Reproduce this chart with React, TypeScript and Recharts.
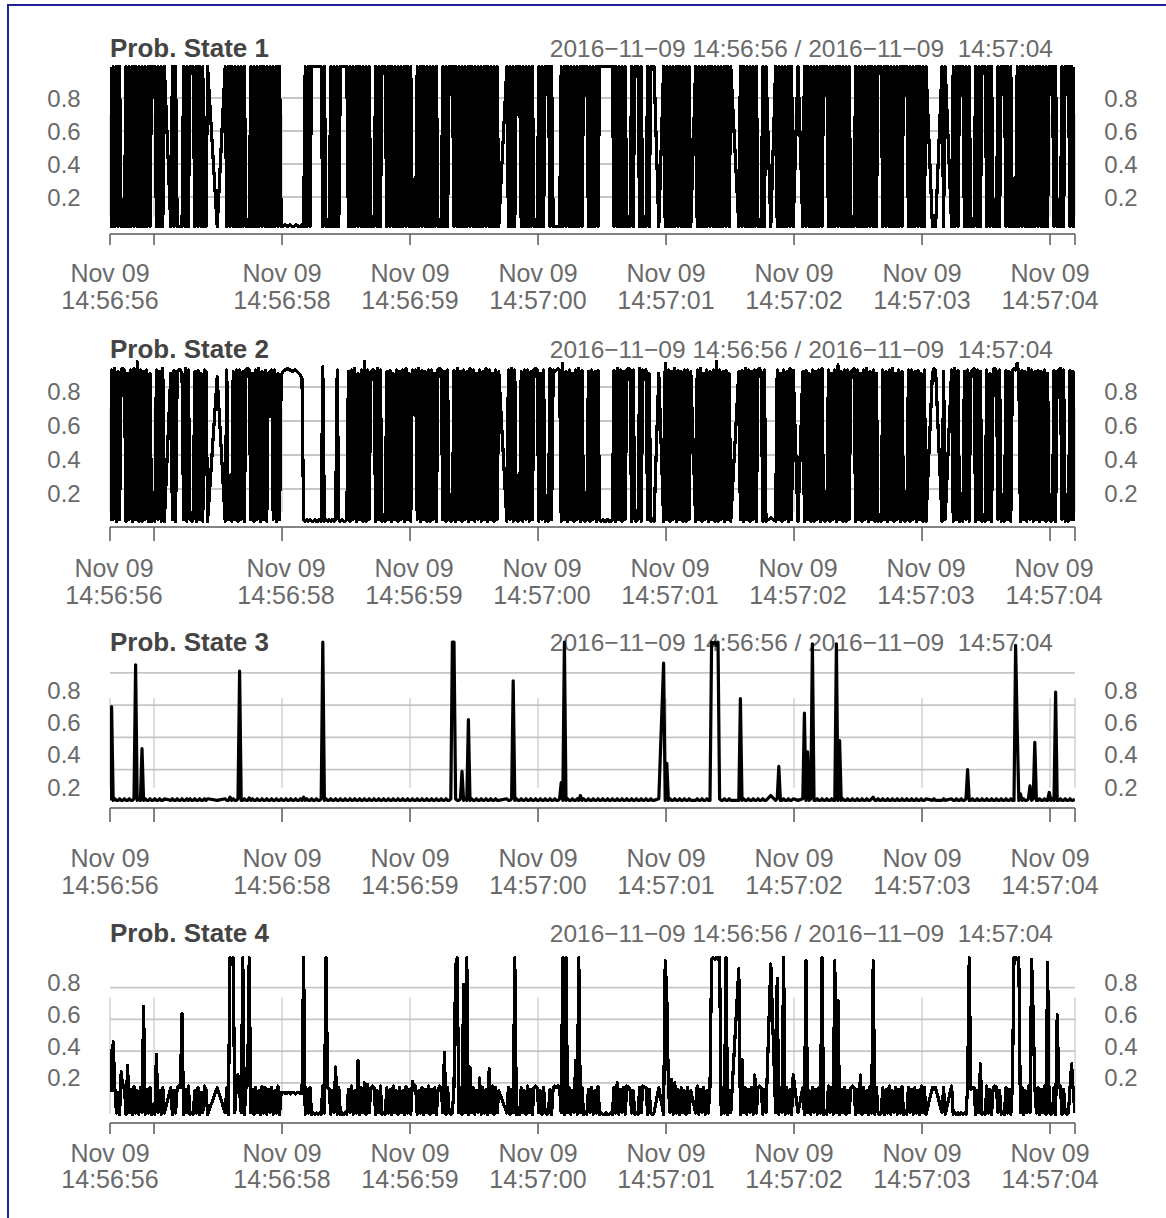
import React from 'react';
import { LineChart, Line, XAxis, YAxis, ReferenceLine } from 'recharts';

const _ = null; // no sample at this time step

// regular sampling clock: seconds after 14:56:56
const SAMPLE_START = 0.656;
const SAMPLE_STEP = 0.0125;

const prob1 = [
  .99,.02,.99,.02,.99,.02,.99,.02,.02,.02,.99,.02,.99,.02,.99,.02,.99,.02,.99,.02,
  .99,.02,.99,.02,.99,.02,.99,.99,.99,.02,.99,.02,.99,.02,.99,_,_,_,.02,.99,
  .02,.99,.02,.02,.02,.02,.99,.02,.99,.02,.99,.99,.99,.02,.99,.02,.99,.02,.99,.02,
  .02,.99,_,_,_,_,_,.02,_,_,_,_,.99,.02,.99,.02,.99,.02,.99,.02,
  .99,.02,.99,.02,.99,.02,.02,.02,.99,.02,.99,.02,.99,.02,.99,.02,.99,.02,.99,.02,
  .99,.02,.99,.02,.99,.02,.99,.02,.02,.03,.03,.02,.03,.03,.02,.02,.03,.03,.02,.02,
  .03,.02,.99,.02,.99,.02,.99,.99,.99,.99,.99,.99,.99,.02,.99,.02,.02,.02,.99,.02,
  .99,.02,.99,.02,.99,.99,.99,.99,.99,.02,.99,.02,.99,.02,.99,.02,.99,.02,.99,.02,
  .99,.02,.99,.02,.02,.02,.99,.02,.99,.02,.99,.99,.99,.02,.99,.02,.99,.02,.99,.02,
  .99,.02,.99,.02,.99,.02,.99,.02,.99,.02,.02,.02,.99,.02,.99,.02,.99,.02,.99,.02,
  .99,.02,.99,.02,.99,.02,.02,.02,.99,.02,.99,.02,.99,.99,.99,.02,.99,.02,.99,.02,
  .99,.02,.99,.02,.99,.02,.99,.02,.99,.02,.99,.02,.99,.02,.99,.02,.99,.02,.99,.02,
  .99,.02,.99,.02,_,_,_,_,.99,.02,.99,.02,.99,.02,.99,.99,.99,.02,.99,.02,
  .99,.02,.99,.02,.99,.02,.02,.02,.99,.02,.99,.02,.99,.99,.99,.02,.99,.02,.02,.02,
  .02,.02,.99,.02,.99,.02,.99,.02,.99,.02,.99,.02,.99,.02,.99,.02,.99,.99,.99,.02,
  .99,.02,.99,.02,.99,.02,.99,.99,.99,.99,.99,.99,.99,.99,.99,.02,.99,.02,.99,.02,
  .99,.02,.99,.02,.02,.02,.99,.02,.99,.99,.99,.02,.99,.02,.02,.02,.99,.02,.99,.99,
  .99,_,_,.02,_,_,.99,.02,.99,.02,.99,.02,.99,.02,.99,.02,.99,.02,.99,.02,
  .99,.02,.99,.02,_,_,.99,.02,.99,.02,.99,.02,.99,.02,.99,.02,.99,.02,.99,.02,
  .99,.02,.99,.02,.99,.02,.99,.02,.99,_,_,_,_,.02,.99,.02,.99,.02,.99,.02,
  .99,.02,.99,.02,.99,.02,.02,.02,.99,.02,.99,_,_,.02,_,_,.99,.02,.99,.02,
  .99,.02,.99,.02,.99,.02,.99,.02,_,_,.99,_,_,.02,.99,.02,.99,.02,.99,.02,
  .99,.02,.99,.02,.99,.02,.99,.99,.99,.02,.99,.02,.99,.02,.99,.02,.99,.02,.99,.02,
  .99,.02,.99,.02,.02,.02,.99,.02,.99,.02,.99,.02,.99,.02,.99,.02,.99,.02,.99,.02,
  .99,.99,.99,.02,.99,.02,.99,.02,.99,.02,.99,.02,.99,.02,.99,.02,.99,.99,.99,.02,
  .99,.02,.99,.02,.99,.02,.99,.02,.99,.02,.99,_,_,_,.02,.02,.02,_,_,_,
  .99,.02,.99,_,_,_,.02,.99,.02,.99,.02,.99,.99,.99,.02,.99,.02,.99,.02,.02,
  .02,.99,.02,.99,.02,.99,.99,.99,.02,.99,.02,.99,.02,.02,.02,.99,.02,.99,.99,.99,
  .02,.99,.02,.99,.02,.02,.02,.99,.02,.99,.02,.99,.02,.99,.02,.99,.02,.99,.02,.99,
  .02,.99,.02,.99,.02,.99,.02,.99,.99,.99,.02,.99,.02,.02,.02,.99,.02,.99,.99,.99,
  .02,.99,.02,.99,
];

const prob2 = [
  .01,.9,.02,.91,.01,.89,.02,.9,.91,.9,.01,.88,.02,.9,.01,.91,.02,.95,.01,.9,
  .01,.89,.02,.9,.01,.88,.01,.02,.01,.9,.02,.89,.01,.91,.01,_,_,_,.88,.02,
  .9,.01,.89,.9,.9,.88,.02,.91,.01,.9,.02,.01,.02,.89,.01,.9,.02,.88,.01,.9,
  .89,.01,_,_,_,_,_,.86,_,_,_,_,.01,.9,.02,.02,.01,.89,.02,.9,
  .01,.9,.02,.89,.01,.9,.91,.9,.02,.88,.01,.9,.02,.91,.01,.89,.02,.9,.01,.88,
  .89,.9,.02,.9,.01,.88,.02,.87,.89,.9,.9,.91,.9,.9,.89,.9,.9,.89,.88,.87,
  .85,.02,.01,.02,.01,.02,.01,.01,.02,.01,.01,.02,.01,.92,.01,.02,.01,.02,.01,.02,
  .01,.02,.9,.02,.01,.02,.01,.01,.02,.89,.01,.9,.02,.91,.01,.88,.02,.9,.01,.95,
  .01,.9,.02,.89,.9,.9,.01,.91,.02,.9,.01,.02,.01,.89,.02,.9,.01,.88,.02,.9,
  .01,.89,.02,.9,.01,.91,.02,.88,.01,.9,.89,.9,.02,.91,.01,.9,.02,.89,.01,.9,
  .01,.9,.02,.88,.01,.9,.91,.9,.02,.89,.01,.9,.02,.01,.02,.9,.01,.91,.02,.89,
  .01,.9,.02,.89,.01,.91,.02,.9,.01,.88,.02,.9,.01,.89,.02,.91,.01,.9,.02,.88,
  .01,.9,.02,.89,_,_,_,_,.01,.9,.02,.91,.01,.9,.02,.01,.02,.89,.01,.9,
  .02,.9,.01,.89,.02,.9,.91,.9,.01,.88,.02,.9,.01,.02,.01,.91,.02,.9,.89,.9,
  .91,.9,.01,.94,.02,.89,.01,.9,.02,.88,.01,.9,.02,.91,.01,.9,.02,.01,.02,.89,
  .01,.9,.02,.89,.01,.9,.02,.01,.02,.01,.01,.02,.01,.01,.02,.9,.01,.91,.02,.9,
  .01,.89,.02,.9,.91,.9,.01,.9,.02,.01,.02,.91,.01,.9,.89,.9,.02,.88,.01,.02,
  .01,_,_,.88,_,_,.01,.94,.02,.9,.01,.89,.02,.91,.01,.9,.02,.89,.01,.9,
  .01,.9,.02,.89,_,_,.01,.9,.02,.91,.01,.88,.02,.9,.01,.89,.02,.9,.01,.95,
  .01,.9,.02,.89,.01,.9,.02,.88,.01,_,_,_,_,.89,.02,.9,.01,.91,.02,.9,
  .01,.89,.02,.9,.01,.9,.91,.89,.01,.9,.01,_,_,.03,_,_,.01,.9,.02,.88,
  .01,.9,.02,.89,.01,.91,.02,.9,_,_,.01,_,_,.89,.01,.9,.02,.88,.01,.9,
  .01,.89,.02,.9,.01,.91,.02,.01,.02,.9,.01,.88,.02,.9,.01,.93,.02,.89,.01,.9,
  .01,.9,.02,.89,.9,.91,.01,.9,.02,.88,.01,.9,.02,.91,.01,.89,.02,.9,.01,.88,
  .01,.02,.01,.9,.02,.89,.01,.9,.02,.91,.01,.88,.02,.9,.01,.89,.02,.01,.02,.9,
  .01,.9,.02,.89,.01,.9,.02,.88,.01,.9,.01,_,_,_,.88,.91,.9,_,_,_,
  .01,.89,.02,_,_,_,.9,.01,.91,.02,.9,.01,.02,.01,.89,.02,.9,.01,.88,.9,
  .91,.01,.9,.02,.89,.01,.02,.01,.9,.02,.88,.01,.9,.91,.89,.02,.9,.01,.02,.01,
  .9,.02,.89,.01,.9,.91,.9,.94,.88,.01,.9,.02,.89,.01,.91,.02,.9,.01,.89,.02,
  .9,.01,.89,.02,.9,.01,.88,.02,.01,.02,.9,.01,.89,.9,.91,.02,.9,.01,.02,.01,
  .9,.02,.89,.01,
];

const prob3 = [
  .01,.59,.01,.02,.01,.01,.02,.01,.01,.02,.01,.01,.02,.01,.01,.02,.85,.01,.02,.01,
  .33,.01,.02,.01,.01,.02,.01,.01,.02,.01,.01,.02,.01,.01,.02,_,_,_,.01,.02,
  .01,.01,.02,.01,.01,.02,.01,.01,.02,.01,.02,.01,.01,.02,.01,.01,.02,.01,.01,.02,
  .01,.02,_,_,_,_,_,.01,_,_,_,_,.02,.01,.01,.03,.01,.02,.01,.01,
  .02,.81,.01,.01,.02,.01,.01,.025,.01,.02,.01,.01,.02,.01,.01,.02,.01,.01,.02,.01,
  .01,.02,.01,.01,.02,.01,.01,.02,.01,.01,.02,.01,.01,.02,.01,.01,.02,.01,.01,.02,
  .01,.03,.01,.02,.01,.01,.02,.01,.01,.02,.01,.01,.02,.99,.01,.02,.01,.01,.02,.01,
  .01,.02,.01,.01,.02,.01,.01,.02,.01,.01,.02,.01,.01,.02,.01,.01,.02,.01,.01,.02,
  .01,.01,.02,.01,.01,.02,.01,.01,.02,.01,.01,.02,.01,.01,.02,.01,.01,.02,.01,.01,
  .02,.01,.01,.02,.01,.01,.02,.01,.01,.02,.01,.01,.02,.01,.01,.02,.01,.01,.02,.01,
  .01,.02,.01,.01,.02,.01,.01,.02,.01,.01,.02,.01,.01,.02,.99,.99,.02,.01,.01,.02,
  .19,.01,.02,.01,.51,.01,.02,.01,.01,.02,.01,.01,.02,.01,.01,.02,.01,.01,.02,.01,
  .01,.02,.01,.01,_,_,_,_,.02,.01,.01,.02,.75,.01,.02,.01,.01,.02,.01,.01,
  .02,.01,.01,.02,.01,.01,.02,.01,.01,.02,.01,.01,.02,.01,.01,.02,.01,.01,.02,.01,
  .01,.02,.12,.01,.99,.01,.02,.01,.01,.02,.01,.01,.02,.01,.04,.01,.02,.01,.01,.02,
  .01,.01,.02,.01,.01,.02,.01,.01,.02,.01,.01,.02,.01,.01,.02,.01,.01,.02,.01,.01,
  .02,.01,.01,.02,.01,.01,.02,.01,.01,.02,.01,.01,.02,.01,.01,.02,.01,.01,.02,.01,
  .01,_,_,.02,_,_,.86,.01,.24,.01,.02,.01,.01,.02,.01,.01,.02,.01,.01,.02,
  .01,.01,.02,.01,_,_,.01,.02,.01,.01,.02,.01,.01,.02,.01,.01,.99,.98,.99,.97,
  .99,.02,.01,.01,.02,.01,.01,.02,.01,_,_,_,_,.01,.64,.01,.02,.01,.01,.02,
  .01,.01,.02,.01,.01,.02,.01,.01,.02,.01,.01,_,_,.04,_,_,.01,.02,.22,.01,
  .01,.02,.01,.01,.02,.01,.01,.02,_,_,.01,_,_,.02,.55,.01,.31,.01,.02,.98,
  .01,.01,.02,.01,.01,.02,.01,.01,.02,.01,.01,.02,.01,.01,.98,.01,.38,.01,.02,.01,
  .01,.02,.01,.01,.02,.01,.01,.02,.01,.01,.02,.01,.01,.02,.01,.01,.02,.03,.01,.01,
  .02,.01,.01,.02,.01,.01,.02,.01,.01,.02,.01,.01,.02,.01,.01,.02,.01,.01,.02,.01,
  .01,.02,.01,.01,.02,.01,.01,.02,.01,.01,.02,_,_,_,.01,.02,.01,_,_,_,
  .01,.02,.01,_,_,_,.02,.01,.01,.02,.01,.01,.02,.01,.01,.02,.2,.01,.01,.02,
  .01,.01,.02,.01,.01,.02,.01,.01,.02,.01,.01,.02,.01,.01,.02,.01,.01,.02,.01,.01,
  .02,.01,.01,.02,.01,.01,.97,.46,.01,.05,.01,.02,.01,.01,.02,.1,.01,.02,.37,.01,
  .01,.02,.01,.01,.02,.01,.01,.06,.01,.02,.01,.68,.01,.01,.02,.01,.01,.02,.01,.01,
  .02,.01,.01,.02,
];

const prob4 = [
  .41,.15,.46,.17,.01,.14,0,.27,.17,.18,0,.31,.01,.16,0,.18,.01,.15,0,.17,
  .01,.68,0,.16,.01,.17,0,.01,0,.38,.01,.15,0,.17,.01,_,_,_,.17,0,
  .15,.01,.17,.18,.17,.64,0,.16,.01,.18,0,.01,0,.15,.01,.17,0,.14,.01,.18,
  .16,0,_,_,_,_,_,.17,_,_,_,_,.01,.17,0,.99,.98,.99,.01,.18,
  .25,.15,.01,.99,0,.17,.18,.99,.01,.16,0,.17,.01,.15,0,.18,.01,.17,0,.16,
  .01,.17,0,.15,.01,.18,0,.14,.14,.14,.13,.14,.14,.13,.14,.14,.13,.14,.14,.13,
  .13,.99,0,.16,.01,.17,0,.01,0,.01,0,.01,0,.18,.01,.99,.17,.16,0,.15,
  .01,.3,0,.17,0,.01,0,.01,0,.16,.01,.18,0,.15,.01,.34,0,.17,.01,.2,
  0,.19,.01,.17,.18,.17,0,.15,.01,.18,0,.01,0,.17,.01,.16,0,.18,.01,.15,
  0,.17,.01,.15,0,.18,.01,.16,0,.21,.17,.18,0,.15,.01,.17,0,.16,.01,.18,
  0,.16,.01,.17,0,.15,.18,.17,.01,.39,0,.17,.01,0,.01,.18,.94,.99,.01,.17,
  0,.82,.01,.99,0,.3,.01,.17,0,.15,.01,.23,0,.17,.01,.16,0,.29,.01,.18,
  0,.17,.01,.15,_,_,_,_,.01,.17,0,.16,.01,.99,0,.01,0,.17,.01,.15,
  0,.18,.01,.16,0,.17,.18,.17,.01,.15,0,.17,.01,0,.01,.16,0,.17,.18,.17,
  .18,.17,.01,.99,0,.99,.01,.17,0,.15,.01,.34,0,.99,.01,.17,0,.01,0,.16,
  .01,.17,0,.15,.01,.18,0,.01,0,0,.01,0,0,.01,0,.17,.01,.2,0,.16,
  .01,.17,0,.18,.17,.16,.01,.15,0,.01,0,.17,.01,.18,.17,.17,0,.16,.01,0,
  .01,_,_,.17,_,_,0,.97,.75,.17,.01,.22,0,.2,.01,.16,0,.17,.01,.15,
  0,.17,.01,.15,_,_,.01,.18,0,.16,.01,.17,0,.15,.01,.18,.98,.99,.98,.99,
  .98,.99,0,.17,.01,.99,0,.15,.01,_,_,_,_,.92,0,.35,.01,.17,0,.16,
  .01,.17,0,.25,.01,.17,.18,.17,0,.16,.01,_,_,.95,_,_,.01,.86,0,.17,
  .01,.99,0,.17,.01,.16,0,.25,_,_,.01,_,_,.17,0,.97,.01,.15,0,.17,
  .01,.16,0,.17,.01,.99,0,.01,0,.18,.01,.17,0,.97,.01,.72,0,.16,.01,.17,
  0,.15,.01,.17,.18,.17,0,.16,.01,.25,0,.17,.01,.15,0,.18,.01,.97,0,.17,
  .01,0,.01,.17,0,.16,.01,.18,0,.15,.01,.17,0,.16,.01,.18,0,.01,0,.17,
  .01,.16,0,.17,.01,.15,0,.18,.01,.17,0,_,_,_,.17,.16,.17,_,_,_,
  .01,.17,0,_,_,_,.18,0,.01,0,.01,0,.01,0,.01,0,.17,.99,.16,.17,
  .17,0,.15,.01,.32,0,.01,0,.18,.01,.16,0,.17,.18,.17,.01,.15,0,.01,0,
  .17,.01,.16,0,.18,.99,.99,.98,.99,.01,.17,0,.15,.01,.18,.01,.98,.63,.17,.01,
  .17,0,.16,.01,.18,0,.96,.01,0,.01,.17,0,.63,.17,.18,0,.16,.01,0,.01,
  .17,.32,.15,.01,
];

const tickTimes = [0.656, 1, 2, 3, 4, 5, 6, 7, 8, 8.195];
const tickDates = ['Nov 09', '', 'Nov 09', 'Nov 09', 'Nov 09', 'Nov 09', 'Nov 09', 'Nov 09', 'Nov 09', ''];
const tickClock = ['14:56:56', '', '14:56:58', '14:56:59', '14:57:00', '14:57:01', '14:57:02', '14:57:03', '14:57:04', ''];
const yTicks = [0.2, 0.4, 0.6, 0.8];
const yTickLabels = ['0.2', '0.4', '0.6', '0.8'];
const panelTitles = ['Prob. State 1', 'Prob. State 2', 'Prob. State 3', 'Prob. State 4'];
const rangeLabel = '2016\u221211\u221209 14:56:56 / 2016\u221211\u221209  14:57:04';
const xDomain = [0.656, 8.195];

const series = [prob1, prob2, prob3, prob4];

const FONT = "'Liberation Sans', Arial, sans-serif";
const TEXT = '#6a6a6a';
const AXIS = '#5a5a5a';
const AXIS_H = 92;

const layouts = [
  { top: 62, bottom: 234, yDomain: [-0.0242, 1.0182], yDy: 0, tickSize: 11, xDx: 0, l1: 39, l2: 66, vgrid: [0.08, 0.7], head: 57, lw: 3.2, crisp: true },
  { top: 356, bottom: 527, yDomain: [-0.0235, 0.9824], yDy: 4, tickSize: 14, xDx: 4, l1: 41, l2: 68, vgrid: [0.065, 0.68], head: 358, lw: 3.2, crisp: true },
  { top: 638, bottom: 808, yDomain: [-0.0372, 1.0155], yDy: 17.5, tickSize: 14, xDx: 0, l1: 50, l2: 77, vgrid: [0.087, 0.644], head: 651, lw: 3.2, crisp: false },
  { top: 952, bottom: 1123, yDomain: [-0.0536, 1.0252], yDy: -5, tickSize: 11, xDx: 0, l1: 30, l2: 56, vgrid: [0.005, 0.74], head: 942, lw: 3.2, crisp: true },
];

const css = layouts
  .map(
    (lay, k) =>
      `.probline${k} path{stroke-width:${lay.lw}px !important;stroke-linejoin:round;${lay.crisp ? 'shape-rendering:crispEdges;' : ''}}`
  )
  .join('\n');

function Panel({ values, lay, k }: { values: (number | null)[]; lay: any; k: number }) {
  const rows = values.map((v, i) => ({ t: SAMPLE_START + i * SAMPLE_STEP, v }));
  const h = lay.bottom - lay.top + AXIS_H;

  const yTick = (props: any) => {
    const idx = yTicks.indexOf(props.payload.value);
    const y = props.y + lay.yDy + 8.5;
    return (
      <g>
        <text x={64} y={y} textAnchor="middle" fill={TEXT} fontSize={24} fontFamily={FONT}>{yTickLabels[idx]}</text>
        <text x={1121} y={y} textAnchor="middle" fill={TEXT} fontSize={24} fontFamily={FONT}>{yTickLabels[idx]}</text>
      </g>
    );
  };

  const xTick = (props: any) => {
    const idx = tickTimes.indexOf(props.payload.value);
    const axisY = props.y - lay.tickSize;
    const x = props.x + lay.xDx;
    return (
      <g>
        <text x={x} y={axisY + lay.l1 + 9} textAnchor="middle" fill={TEXT} fontSize={25} fontFamily={FONT}>{tickDates[idx]}</text>
        <text x={x} y={axisY + lay.l2 + 9} textAnchor="middle" fill={TEXT} fontSize={25} fontFamily={FONT}>{tickClock[idx]}</text>
      </g>
    );
  };

  return (
    <div style={{ position: 'absolute', left: 0, top: lay.top }}>
      <LineChart width={1166} height={h} data={rows} margin={{ top: 0, right: 91, bottom: 0, left: 0 }}>
        {yTicks.map((yv) => (
          <ReferenceLine key={'h' + yv} y={yv} stroke="#c6c6c6" strokeWidth={1.8} />
        ))}
        {tickTimes.map((tt) => (
          <ReferenceLine key={'v' + tt} segment={[{ x: tt, y: lay.vgrid[0] }, { x: tt, y: lay.vgrid[1] }]} stroke="#bdbdbd" strokeWidth={1} />
        ))}
        <XAxis
          type="number"
          dataKey="t"
          domain={xDomain}
          ticks={tickTimes}
          interval={0}
          allowDataOverflow
          height={AXIS_H}
          tickSize={lay.tickSize}
          tickMargin={0}
          axisLine={{ stroke: AXIS, strokeWidth: 1.5 }}
          tickLine={{ stroke: AXIS, strokeWidth: 1.5 }}
          tick={xTick}
        />
        <YAxis
          width={110}
          domain={lay.yDomain}
          ticks={yTicks}
          interval={0}
          allowDataOverflow
          axisLine={false}
          tickLine={false}
          tick={yTick}
        />
        <Line
          className={'probline' + k}
          type="linear"
          dataKey="v"
          stroke="#000"
          strokeWidth={lay.lw}
          strokeLinejoin="round"
          dot={false}
          activeDot={false}
          connectNulls
          isAnimationActive={false}
        />
      </LineChart>
    </div>
  );
}

export default function App() {
  return (
    <div style={{ position: 'absolute', left: 0, top: 0, width: 1166, height: 1218, overflow: 'hidden', background: '#fff' }}>
      <style>{css}</style>
      <div style={{ position: 'absolute', left: 7, top: 4, width: 1240, height: 1280, border: '2px solid #20209a', boxSizing: 'border-box' }} />
      <svg width={1166} height={1218} style={{ position: 'absolute', left: 0, top: 0 }}>
        {layouts.map((lay, k) => (
          <g key={k}>
            <text x={110} y={lay.head} fontFamily={FONT} fontWeight="bold" fontSize={26} fill="#444">{panelTitles[k]}</text>
            <text x={1053} y={lay.head} textAnchor="end" fontFamily={FONT} fontSize={24.5} fill={TEXT} xmlSpace="preserve" style={{ whiteSpace: 'pre' }}>{rangeLabel}</text>
          </g>
        ))}
      </svg>
      {layouts.map((lay, k) => (
        <Panel key={k} k={k} values={series[k]} lay={lay} />
      ))}
    </div>
  );
}
